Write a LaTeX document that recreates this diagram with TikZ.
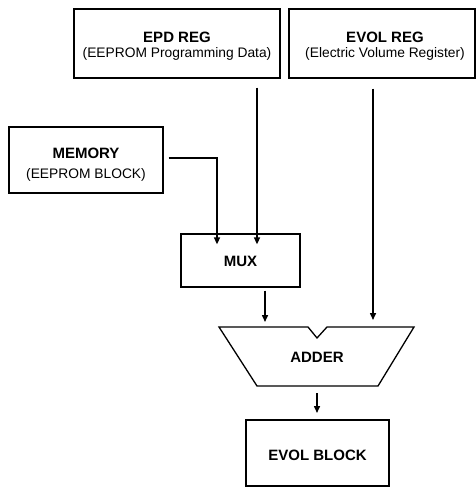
\documentclass[tikz,border=0pt]{standalone}
\usepackage{fontspec}
\setmainfont{Liberation Sans}
\usetikzlibrary{arrows.meta}
\begin{document}
\begin{tikzpicture}[x=1pt,y=-1pt,
  blk/.style={draw,line width=1.3pt,rectangle,inner sep=0pt},
  ttl/.style={font=\bfseries\fontsize{15}{17}\selectfont,inner sep=0pt},
  sub/.style={font=\fontsize{13.8}{15}\selectfont,inner sep=0pt},
  arr/.style={line width=1.5pt,-{Triangle[length=7pt,width=6pt]}}]
\useasboundingbox (0,0) rectangle (476,487);
\node[blk,minimum width=206pt,minimum height=69pt] (epd) at (177,43.5) {};
\node[ttl,anchor=base] (epdt) at (177,43) {EPD REG};
\node[sub,anchor=base] (epds) at (177,57.5) {(EEPROM Programming Data)};
\node[blk,minimum width=186pt,minimum height=69pt] (evr) at (382,43.5) {};
\node[ttl,anchor=base] (evrt) at (385,43) {EVOL REG};
\node[sub,anchor=base] (evrs) at (385,57.5) {(Electric Volume Register)};
\node[blk,minimum width=154pt,minimum height=66pt] (mem) at (86,160) {};
\node[ttl,anchor=base] (memt) at (86,158) {MEMORY};
\node[sub,anchor=base] (mems) at (86,178.5) {(EEPROM BLOCK)};
\node[blk,minimum width=119pt,minimum height=53pt] (mux) at (240.5,260.5) {};
\node[ttl,anchor=base] (muxt) at (240.5,266) {MUX};
\node[blk,minimum width=143pt,minimum height=66pt] (evb) at (317.5,453) {};
\node[ttl,anchor=base] (evbt) at (317.5,460) {EVOL BLOCK};
\node[ttl,anchor=base] (add) at (317,362) {ADDER};
\draw[line width=1.3pt,line join=miter] (219,327) -- (308,327) -- (317,338) -- (327,327) -- (414,327)
  -- (378,386) -- (257,386) -- cycle;
\coordinate (addL) at (265,322);
\coordinate (addR) at (373,320);
\coordinate (addB) at (317,413);
\coordinate (addS) at (317,393);
\draw[arr] ([xshift=5pt,yshift=2pt]mem.east) -| ([xshift=-23.5pt,yshift=-11pt]mux.north);
\draw[arr] (epd.south -| 257,0) ++(0,9) -- ([xshift=16.5pt,yshift=-11pt]mux.north);
\draw[arr] (evr.south -| addR) ++(0,10) -- (addR);
\draw[arr] (mux.south -| addL) ++(0,3) -- (addL);
\draw[arr] (addS) -- (addB);
\end{tikzpicture}
\end{document}
